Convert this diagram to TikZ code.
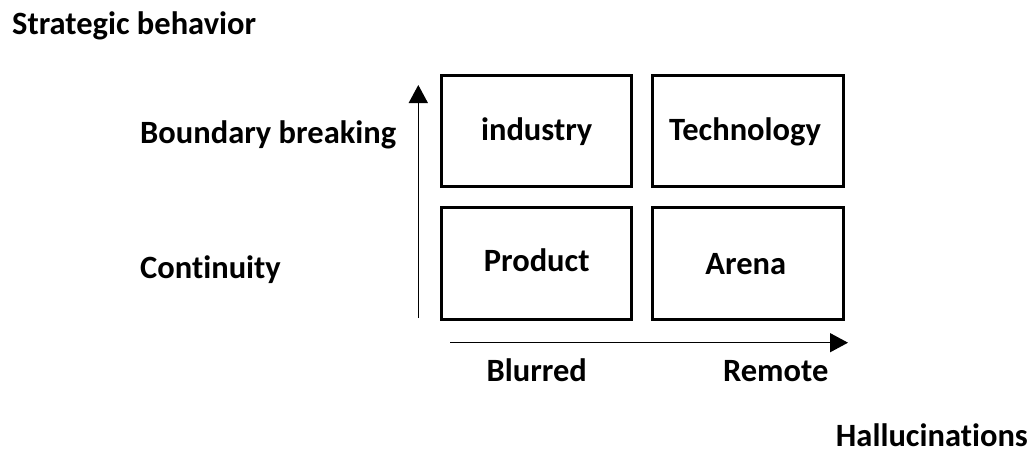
\documentclass[tikz,border=0pt]{standalone}
\usepackage{fontspec}
\setmainfont{Carlito}[RawFeature={-liga;-clig}]
\usetikzlibrary{arrows.meta}
\begin{document}
\begin{tikzpicture}[x=1pt,y=-1pt,
  lbl/.style={font=\fontsize{32.5}{36}\selectfont\bfseries,inner sep=0pt},
  cell/.style={draw,line width=3pt,minimum width=189.5pt,minimum height=110.5pt,inner sep=0pt},
  axis/.style={line width=1.5pt,-{Triangle[length=18pt,width=19pt]}}]
\useasboundingbox (0,0) rectangle (1031,452);
% boxes
\node[cell,minimum height=110.5pt] (ind) at (536.5,130.75) {};
\node[cell,minimum width=191pt] (tec) at (747.5,130.75) {};
\node[cell,minimum height=112pt] (pro) at (536.5,263.5) {};
\node[cell,minimum width=191pt,minimum height=112pt] (are) at (747.5,263.5) {};
% box texts
\node[lbl,anchor=base] (tind) at (536.7,140) {industry};
\node[lbl,anchor=base] (ttec) at (745,140) {Technology};
\node[lbl,anchor=base] (tpro) at (536.7,271.7) {Product};
\node[lbl,anchor=base] (tare) at (745.8,274) {Arena};
% side labels
\node[lbl,anchor=base west] (sb) at (12,35) {Strategic behavior};
\node[lbl,anchor=base west] (bb) at (140,143) {Boundary breaking};
\node[lbl,anchor=base west] (co) at (140,278) {Continuity};
\node[lbl,anchor=base] (bl) at (536.7,381.7) {Blurred};
\node[lbl,anchor=base] (re) at (775.7,381.7) {Remote};
\node[lbl,anchor=base east] (ha) at (1028,446.5) {Hallucinations};
% axes
\coordinate (v0) at (418.3,318);
\coordinate (v1) at (418.3,85);
\coordinate (h0) at (450,342.7);
\coordinate (h1) at (848,342.7);
\draw[axis] (v0) -- (v1);
\draw[axis] (h0) -- (h1);
\end{tikzpicture}
\end{document}
